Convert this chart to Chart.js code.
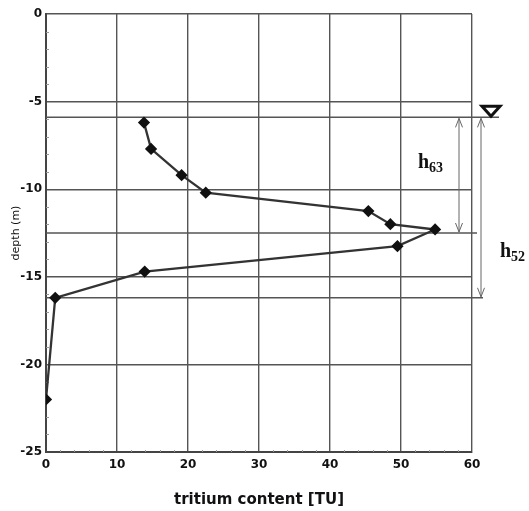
<!DOCTYPE html>
<html>
<head>
<meta charset="utf-8">
<style>
  html, body { margin: 0; padding: 0; background: #fff; }
  #wrap { width: 529px; height: 511px; }
</style>
<script src="https://cdn.jsdelivr.net/npm/chart.js@4.4.1/dist/chart.umd.min.js"></script>
</head>
<body>
<div id="wrap"><canvas id="chart"></canvas></div>
<script>
// measured profile
const tritium = [13.8, 14.8, 19.1, 22.5, 45.4, 48.5, 54.8, 49.5, 13.9, 1.3, 0];
const depth = [-6.2, -7.7, -9.2, -10.2, -11.25, -12.0, -12.3, -13.25, -14.7, -16.2, -22.0];

// axis ticks
const xTicks = [0, 10, 20, 30, 40, 50, 60];
const yTicks = [0, -5, -10, -15, -20, -25];

// water table and the two reference levels
const waterTable = -5.9;
const levelNames = ['63', '52'];
const levelDepths = [-12.5, -16.2];

const annotations = {
  id: 'annotations',
  beforeDatasetsDraw(chart) {
    const { ctx, chartArea: a, scales: { y } } = chart;
    const yw = y.getPixelForValue(waterTable);
    const y63 = y.getPixelForValue(levelDepths[0]);
    const y52 = y.getPixelForValue(levelDepths[1]);

    ctx.save();
    // minor ticks
    ctx.strokeStyle = '#999';
    ctx.lineWidth = 1;
    for (let d = -1; d > -25; d--) {
      if (d % 5 === 0) continue;
      const py = Math.round(y.getPixelForValue(d)) + 0.5;
      ctx.beginPath(); ctx.moveTo(a.left, py); ctx.lineTo(a.left + 3, py); ctx.stroke();
    }
    const x = chart.scales.x;
    for (let t = 2; t < 60; t += 2) {
      if (t % 10 === 0) continue;
      const px = Math.round(x.getPixelForValue(t)) + 0.5;
      ctx.beginPath(); ctx.moveTo(px, a.bottom); ctx.lineTo(px, a.bottom - 2); ctx.stroke();
    }

    // level lines
    ctx.strokeStyle = '#555';
    ctx.lineWidth = 1.5;
    const hline = (py, x2) => {
      ctx.beginPath(); ctx.moveTo(a.left, py); ctx.lineTo(x2, py); ctx.stroke();
    };
    hline(yw, a.right + 27);
    hline(y63, a.right + 5);
    hline(y52, a.right + 11);

    // double arrows
    ctx.strokeStyle = '#666';
    ctx.lineWidth = 1;
    const arrow = (px, y1, y2) => {
      ctx.beginPath();
      ctx.moveTo(px, y1); ctx.lineTo(px, y2);
      ctx.moveTo(px - 3.5, y1 + 9); ctx.lineTo(px, y1); ctx.lineTo(px + 3.5, y1 + 9);
      ctx.moveTo(px - 3.5, y2 - 9); ctx.lineTo(px, y2); ctx.lineTo(px + 3.5, y2 - 9);
      ctx.stroke();
    };
    arrow(a.right - 13, yw + 1, y63 - 1);
    arrow(a.right + 9, yw + 1, y52 - 1);

    // water table symbol
    ctx.strokeStyle = '#111';
    ctx.lineWidth = 3;
    ctx.lineJoin = 'miter';
    const cx = a.right + 19;
    ctx.beginPath();
    ctx.moveTo(cx - 9, yw - 11);
    ctx.lineTo(cx + 9, yw - 11);
    ctx.lineTo(cx, yw - 1);
    ctx.closePath();
    ctx.stroke();

    // labels h63, h52
    ctx.fillStyle = '#111';
    ctx.textBaseline = 'alphabetic';
    const label = (sub, px, py) => {
      ctx.font = 'bold 20px "Liberation Serif", serif';
      ctx.fillText('h', px, py);
      const w = ctx.measureText('h').width;
      ctx.font = 'bold 14px "Liberation Serif", serif';
      ctx.fillText(sub, px + w, py + 4);
    };
    label(levelNames[0], a.right - 54, y63 - 65);
    label(levelNames[1], a.right + 28, y52 - 41);
    ctx.restore();
  }
};

const tickFont = { family: '"DejaVu Sans", Verdana, sans-serif', size: 12, weight: 'bold' };

new Chart(document.getElementById('chart'), {
  type: 'line',
  data: {
    datasets: [{
      data: tritium.map((v, i) => ({ x: v, y: depth[i] })),
      borderColor: '#333',
      borderWidth: 2.3,
      pointStyle: 'rectRot',
      pointRadius: 4.5,
      pointBackgroundColor: '#111',
      pointBorderColor: '#111',
      tension: 0,
      fill: false
    }]
  },
  options: {
    responsive: true,
    maintainAspectRatio: false,
    animation: false,
    layout: { padding: { top: 14, right: 57, left: 0, bottom: 0 } },
    plugins: { legend: { display: false }, tooltip: { enabled: false } },
    scales: {
      x: {
        type: 'linear',
        min: 0, max: 60,
        afterFit: s => { s.height = 59; },
        afterBuildTicks: s => { s.ticks = xTicks.map(v => ({ value: v })); },
        grid: { color: '#555', lineWidth: 1.4, drawTicks: false },
        border: { color: '#444', width: 2 },
        ticks: { color: '#111', font: tickFont, padding: 6 },
        title: {
          display: true,
          text: 'tritium content [TU]',
          color: '#111',
          font: { family: '"DejaVu Sans", Verdana, sans-serif', size: 15, weight: 'bold' },
          padding: { top: 0, bottom: 2 }
        }
      },
      y: {
        type: 'linear',
        min: -25, max: 0,
        afterFit: s => { s.width = 46; },
        afterBuildTicks: s => { s.ticks = yTicks.map(v => ({ value: v })); },
        grid: { color: '#555', lineWidth: 1.4, drawTicks: false },
        border: { color: '#444', width: 2 },
        ticks: { color: '#111', font: tickFont, padding: 4 },
        title: {
          display: true,
          text: 'depth (m)',
          color: '#111',
          font: { family: '"DejaVu Sans", Verdana, sans-serif', size: 11 },
          padding: { top: 10, bottom: 0 }
        }
      }
    }
  },
  plugins: [annotations]
});
</script>
</body>
</html>
